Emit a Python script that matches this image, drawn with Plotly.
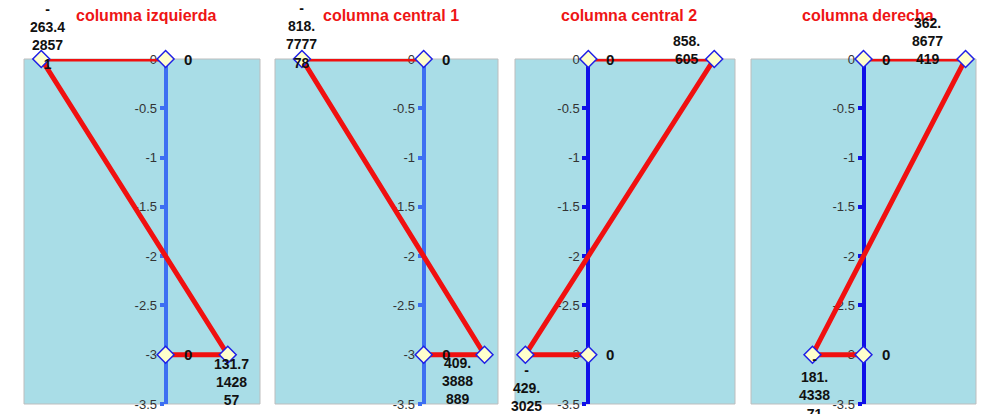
import plotly.graph_objects as go

# ---- data ----
titles = ["columna izquierda", "columna central 1", "columna central 2", "columna derecha"]
top_values = [-263.428571, -818.777778, 858.605, 362.8677419]
bottom_values = [131.7142857, 409.3888889, -429.3025, -181.433871]
depth_top = 0
depth_bottom = -3
top_labels = ["-<br>263.4<br>2857<br>1", "-<br>818.<br>7777<br>78", "858.<br>605", "362.<br>8677<br>419"]
bottom_labels = ["131.7<br>1428<br>57", "409.<br>3888<br>889", "-<br>429.<br>3025", "-<br>181.<br>4338<br>71"]
zero_label = "0"
y_tick_values = [0, -0.5, -1, -1.5, -2, -2.5, -3, -3.5]
y_tick_labels = ["0", "-0.5", "-1", "-1.5", "-2", "-2.5", "-3", "-3.5"]
x_ranges = [[-300, 200], [-1000, 500], [-500, 1000], [-400, 400]]

# ---- layout / style ----
W, H = 980, 406          # page body has an 8px margin
OFF = 8
panel_px = [(24 - OFF, 260 - OFF), (275 - OFF, 498 - OFF), (515 - OFF, 735 - OFF), (751 - OFF, 976 - OFF)]
axis_colors = ["#3d6ff2", "#3d6ff2", "#1010e8", "#1010e8"]
top_shift = [(6, -15), (0, -14), (-28, -10), (-38, -10)]
bottom_shift = [(4, 1), (-27, 2), (1, -5), (2, 6)]
FONT = "Arial, Liberation Sans, sans-serif"
label_font = dict(family=FONT, size=14, color="#111111")
zero_font = dict(family=FONT, size=15, color="#111111")

fig = go.Figure()
annotations = []
shapes = []
layout = {}

for i in range(4):
    sfx = "" if i == 0 else str(i + 1)
    xa, ya = "x" + sfx, "y" + sfx
    a, b = panel_px[i]
    r0, r1 = x_ranges[i]
    pos = (a + (0 - r0) / (r1 - r0) * (b - a)) / W

    xs = [0, top_values[i], bottom_values[i], 0]
    ys = [depth_top, depth_top, depth_bottom, depth_bottom]
    fig.add_trace(go.Scatter(
        x=xs, y=ys, mode="lines+markers", xaxis=xa, yaxis=ya,
        line=dict(color="#f01010", width=5),
        marker=dict(symbol="diamond", size=13, color="#ffffcc",
                    line=dict(color="#1f1fe6", width=1.5)),
        cliponaxis=False, showlegend=False, hoverinfo="x+y",
    ))

    layout["xaxis" + sfx] = dict(domain=[a / W, b / W], range=[r0, r1], visible=False,
                                 anchor=ya, fixedrange=True)
    layout["yaxis" + sfx] = dict(domain=[0, 1], range=[-3.5, 0], anchor="free", position=pos,
                                 tickvals=y_tick_values, ticktext=y_tick_labels,
                                 showline=True, linecolor=axis_colors[i], linewidth=4,
                                 ticks="outside", ticklen=4, tickwidth=4, tickcolor=axis_colors[i],
                                 showgrid=False, zeroline=False, layer="below traces",
                                 tickfont=dict(family=FONT, size=13, color="#333333"),
                                 fixedrange=True)

    dom = ("x" if i == 0 else "x" + str(i + 1)) + " domain"
    ydom = ("y" if i == 0 else "y" + str(i + 1)) + " domain"
    shapes.append(dict(type="rect", xref=dom, yref=ydom, x0=0, x1=1, y0=0, y1=1,
                       line=dict(color="#bdbdbd", width=1), layer="below"))

    annotations.append(dict(text="<b>%s</b>" % titles[i], xref=dom, yref="paper", x=0.5, y=1,
                            xanchor="center", yanchor="middle",
                            yshift=44, xshift=4, showarrow=False,
                            font=dict(family=FONT, size=16, color="#ee1515")))
    # value labels
    annotations.append(dict(text="<b>%s</b>" % top_labels[i], x=top_values[i], y=depth_top,
                            xref=xa, yref=ya, showarrow=False, xanchor="center", yanchor="bottom",
                            xshift=top_shift[i][0], yshift=top_shift[i][1], font=label_font))
    annotations.append(dict(text="<b>%s</b>" % bottom_labels[i], x=bottom_values[i], y=depth_bottom,
                            xref=xa, yref=ya, showarrow=False, xanchor="center", yanchor="top",
                            xshift=bottom_shift[i][0], yshift=bottom_shift[i][1], font=label_font))
    for yv in (depth_top, depth_bottom):
        annotations.append(dict(text="<b>%s</b>" % zero_label, x=0, y=yv, xref=xa, yref=ya,
                                showarrow=False, xanchor="center", yanchor="middle",
                                xshift=22, font=zero_font))

fig.update_layout(
    width=W, height=H,
    margin=dict(l=0, r=0, t=51, b=10),
    paper_bgcolor="white",
    plot_bgcolor="#a9dde7",
    annotations=annotations, shapes=shapes,
    **layout,
)

fig.write_html("out.html")
